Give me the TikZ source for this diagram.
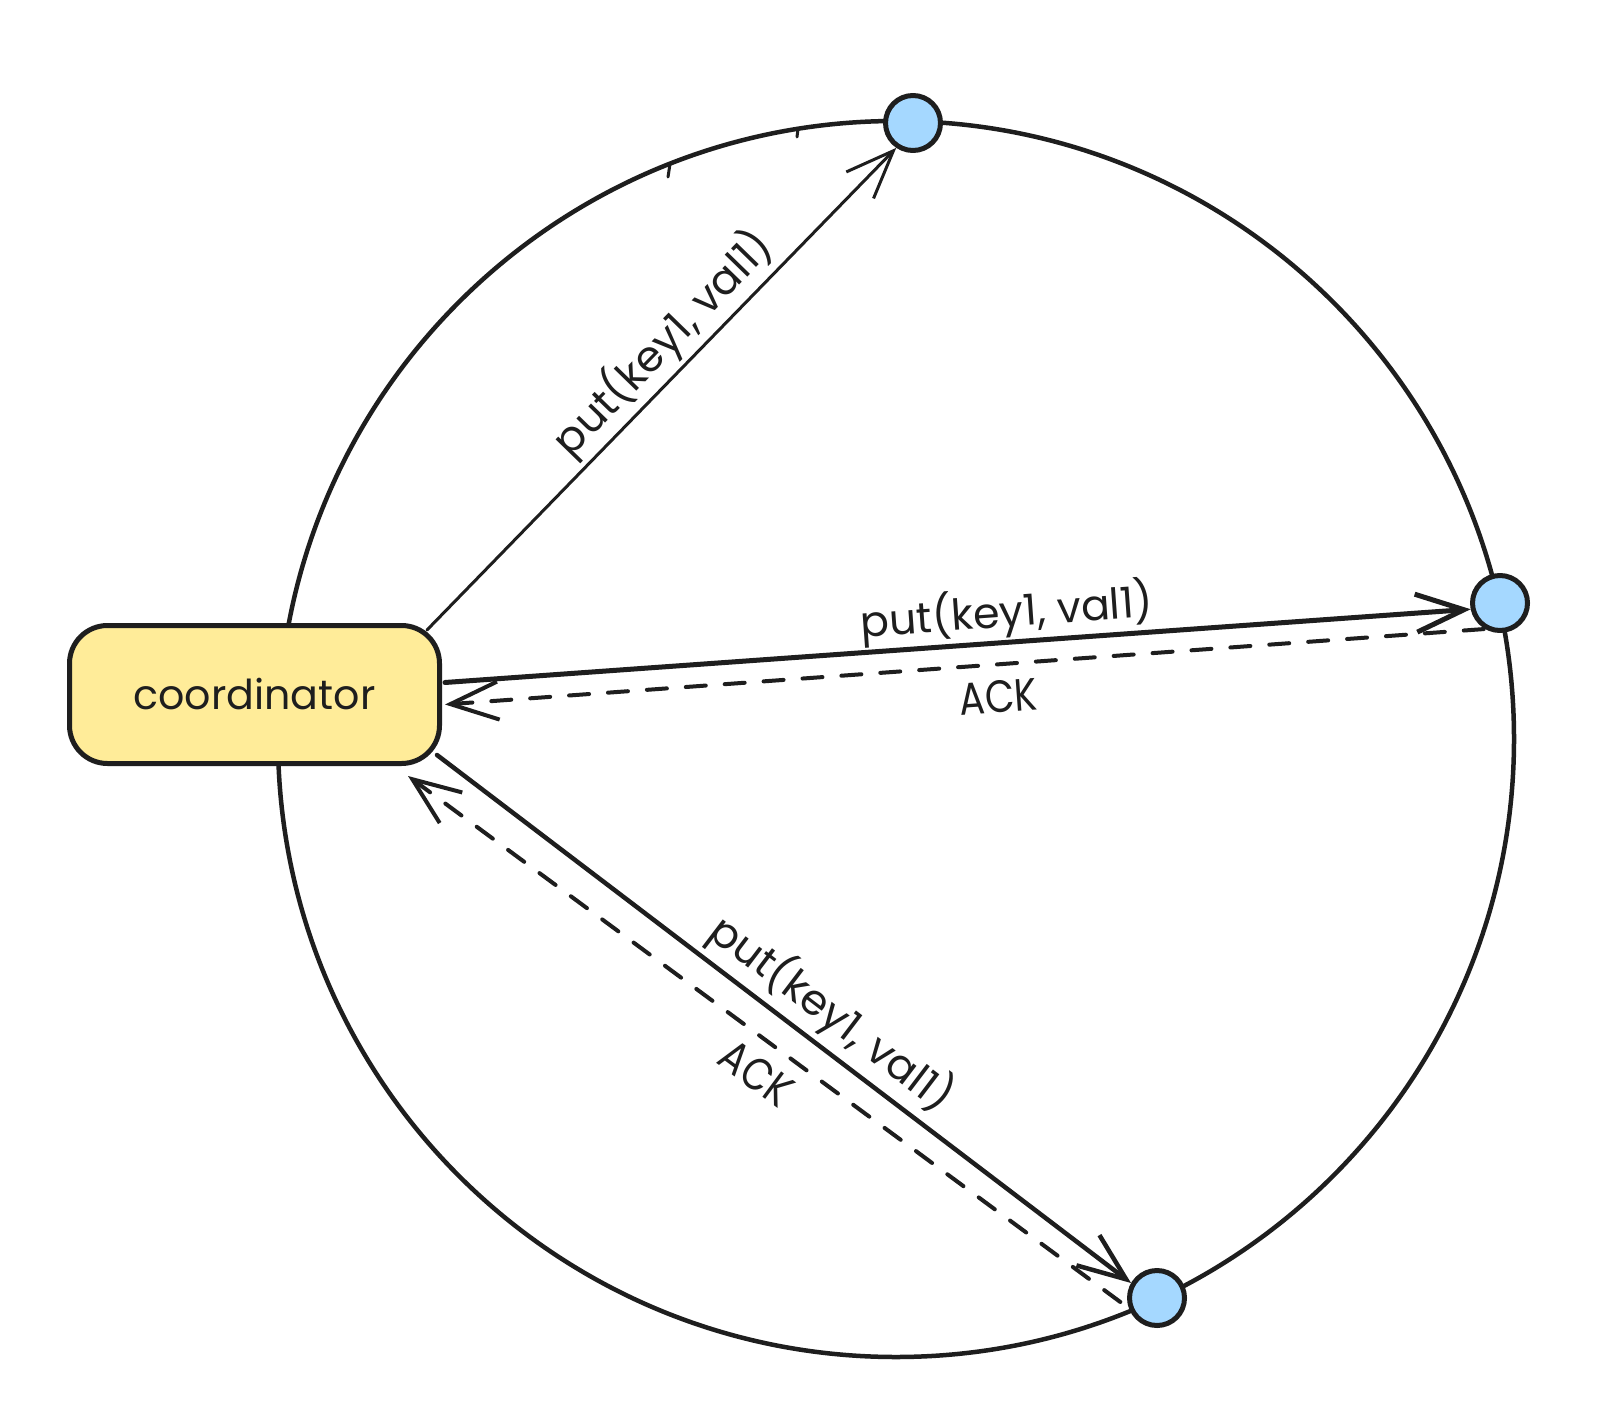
\documentclass[tikz,border=0pt]{standalone}
\usepackage{fontspec}
\setmainfont{Poppins}
\usetikzlibrary{arrows.meta}
\definecolor{ink}{HTML}{1E1E1E}
\definecolor{boxyellow}{HTML}{FFEC99}
\definecolor{nodeblue}{HTML}{A5D8FF}
\begin{document}
\begin{tikzpicture}[x=1pt,y=-1pt, line join=round, line cap=round,
  ring/.style={draw=ink, line width=4.5pt},
  hook/.style={draw=ink, line width=3pt},
  peer/.style={circle, draw=ink, fill=nodeblue, line width=5pt, minimum size=55pt, inner sep=0pt},
  coordbox/.style={draw=ink, fill=boxyellow, line width=5pt, rounded corners=38pt,
    minimum width=370pt, minimum height=138pt, inner sep=0pt, text=ink},
  sendthin/.style={draw=ink, line width=3pt, -{Straight Barb[length=48pt,width=38pt]}},
  sendthick/.style={draw=ink, line width=5pt, -{Straight Barb[length=48pt,width=38pt]}},
  acksend/.style={draw=ink, line width=4pt, dash pattern=on 20pt off 19pt,
    {Straight Barb[length=48pt,width=38pt]}-},
  lbl/.style={inner sep=0pt, text=ink, sloped}
]
\useasboundingbox (0,0) rectangle (1600,1420);
\fill[white] (0,0) rectangle (1600,1420);

% ring
\draw[ring] (896,739) circle[radius=618];
\draw[hook] (670,164) -- (668,177);
\draw[hook] (798,129) -- (797,137);

% nodes
\node[coordbox] (coord) at (254.5,694.5) {\resizebox{242pt}{!}{coordinator}};
\node[peer] (n1) at (913,123) {};
\node[peer] (n2) at (1500,603) {};
\node[peer] (n3) at (1157,1298) {};

% connectors
\draw[sendthin] ([shift={(-15,7)}]coord.north east) -- (n1.236)
  node[lbl, pos=0.55, above=4pt] {\resizebox{293pt}{!}{put(key1, val1)}};
\draw[sendthick] ([shift={(3,-12)}]coord.east) -- (n2.192)
  node[lbl, pos=0.55, above=2pt] {\resizebox{293pt}{!}{put(key1, val1)}};
\draw[acksend] ([shift={(3,10)}]coord.east) -- (n2.240)
  node[lbl, pos=0.53, below=14pt] {\resizebox{78pt}{32pt}{ACK}};
\draw[sendthick, line width=4.5pt] ([shift={(-5,-11)}]coord.south east) -- (n3.150)
  node[lbl, pos=0.54, above=6pt] {\resizebox{293pt}{!}{put(key1, val1)}};
\draw[acksend] ([shift={(-34,10)}]coord.south east) -- (n3.200)
  node[lbl, pos=0.51, below=14pt] {\resizebox{78pt}{32pt}{ACK}};
\end{tikzpicture}
\end{document}
